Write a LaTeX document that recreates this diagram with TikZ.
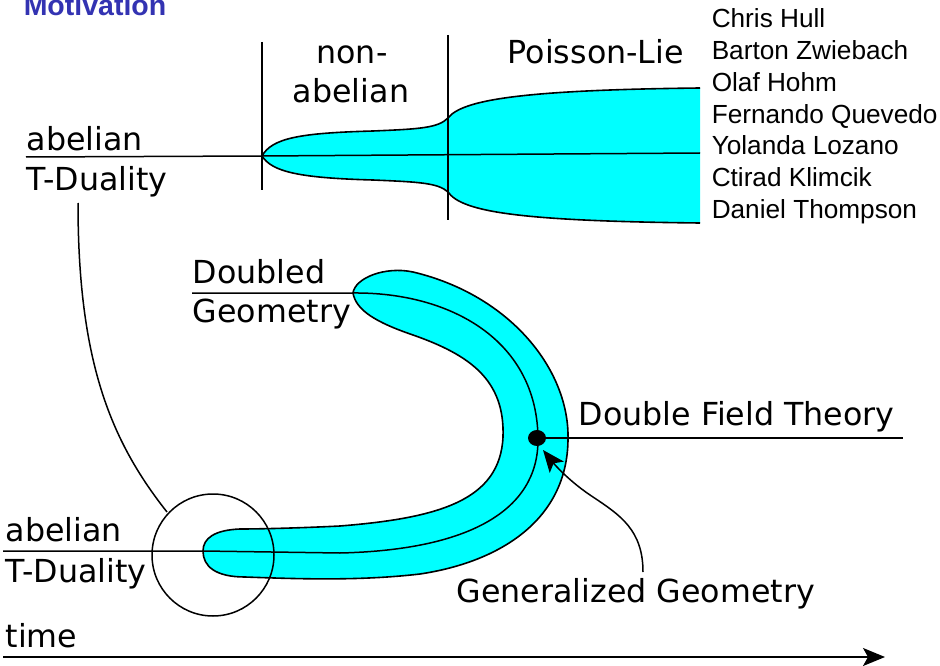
\documentclass[tikz,border=0pt]{standalone}
\usepackage{fontspec}
\usepackage{tikz}
\usetikzlibrary{arrows.meta}
\newfontfamily\dejavu{DejaVu Sans}
\newfontfamily\arialfont{Liberation Sans}
\definecolor{structblue}{rgb}{0.2,0.2,0.7}
\definecolor{aqua}{RGB}{0,255,255}

\tikzset{
  lbl/.style={font=\dejavu\fontsize{31.7}{37}\selectfont, inner sep=0pt, anchor=base west},
  who/.style={font=\arialfont\fontsize{26.2}{31}\selectfont, inner sep=0pt, anchor=base west},
  edge/.style={line width=1.6pt},
  band/.style={fill=aqua}
}

\begin{document}
\begin{tikzpicture}[x=1pt, y=-1pt, >={Stealth[length=22pt,width=18pt,inset=5pt]}, line width=1.5pt]
  \useasboundingbox (0,0) rectangle (940,666);

  \node[font=\arialfont\bfseries\fontsize{28.5}{34}\selectfont, text=structblue, inner sep=0pt, anchor=base west] (title) at (23,16) {Motivation};

  % top picture
  \coordinate (tip) at (262,156);
  \fill[band] (tip) .. controls (272,138) and (300,133) .. (373,131) .. controls (420,129) and (438,128) .. (448,118)
    .. controls (462,100) and (520,90) .. (700,88) -- (700,223)
    .. controls (520,221) and (462,212) .. (448,192) .. controls (438,183) and (420,182) .. (373,180)
    .. controls (300,178) and (272,172) .. (tip) -- cycle;
  \draw[edge] (tip) .. controls (272,138) and (300,133) .. (373,131) .. controls (420,129) and (438,128) .. (448,118)
    .. controls (462,100) and (520,90) .. (700,88);
  \draw[edge] (tip) .. controls (272,172) and (300,178) .. (373,180) .. controls (420,182) and (438,183) .. (448,192)
    .. controls (462,212) and (520,221) .. (700,223);
  \draw (26,157) -- (tip) -- (700,153);
  \draw (262,42) -- (262,190);
  \draw (448,35) -- (448,220);

  \node[lbl] (abA) at (26,151) {abelian};
  \node[lbl] (tdA) at (26,190) {T-Duality};
  \node[lbl, anchor=base] (nonab1) at (352,64) {non-};
  \node[lbl, anchor=base] (nonab2) at (351,103) {abelian};
  \node[lbl] (pl) at (507,64) {Poisson-Lie};

  \foreach \n [count=\i from 0] in {Chris Hull, Barton Zwiebach, Olaf Hohm, Fernando Quevedo, Yolanda Lozano, Ctirad Klimcik, Daniel Thompson}
    \node[who] (who\i) at (711,28+31.7*\i) {\n};

  % bottom picture
  \coordinate (tipD) at (353,293);
  \coordinate (tipT) at (203,551);
  \path[band, draw=black, edge] (tipD) .. controls (356,310) and (375,322) .. (413,335)
    .. controls (470,355) and (505,380) .. (503,437)
    .. controls (500,500) and (440,518) .. (340,526)
    .. controls (300,528) and (260,529) .. (240,529)
    .. controls (215,530) and (203,538) .. (tipT)
    .. controls (203,566) and (215,577) .. (245,577)
    .. controls (300,579) and (360,581) .. (420,574)
    .. controls (500,562) and (567,520) .. (568,440)
    .. controls (570,370) and (510,295) .. (413,272)
    .. controls (385,266) and (355,278) .. (tipD) -- cycle;
  \draw (3,551) -- (tipT) -- (340,553) .. controls (470,550) and (538,510) .. (538,440)
    .. controls (538,340) and (450,292) .. (tipD) -- (192,293);

  \fill (537,438) ellipse (9 and 8) coordinate (dft);
  \draw (dft) -- (903,438);

  \node[draw, circle, minimum size=122pt, inner sep=0pt] (zoomc) at (213,555) {};
  \draw (78,203) .. controls (78,360) and (110,440) .. (167,512);
  \draw[->] (643,572) .. controls (643,530) and (620,515) .. (593,497) .. controls (570,482) and (555,465) .. (543,450);
  \draw[->] (3,657) -- (885,657);

  \node[lbl] (dg1) at (192,283) {Doubled};
  \node[lbl] (dg2) at (192,322) {Geometry};
  \node[lbl] (dftl) at (578,425) {Double Field Theory};
  \node[lbl] (gg) at (456,602) {Generalized Geometry};
  \node[lbl] (abB) at (5,541) {abelian};
  \node[lbl] (tdB) at (5,582) {T-Duality};
  \node[lbl] (time) at (5,647) {time};
\end{tikzpicture}
\end{document}
